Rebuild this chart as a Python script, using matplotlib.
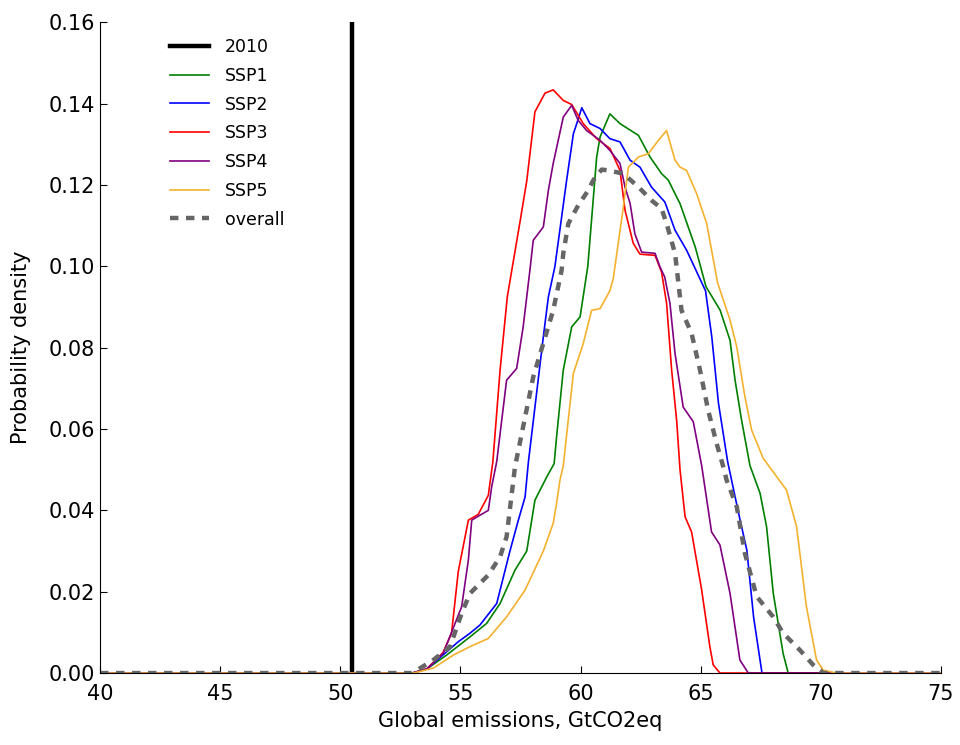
import matplotlib
matplotlib.use("Agg")
import matplotlib.pyplot as plt
from matplotlib.ticker import FormatStrFormatter

# Emissions level in 2010 (GtCO2eq)
EMIS_2010 = 50.5

# Probability density of global emissions per SSP scenario
ssp1_x = [40, 53.0, 53.6, 54.42, 55.40, 56.09, 56.65, 57.27, 57.76, 58.10, 58.59, 58.90, 59.0, 59.28, 59.63, 59.98,
          60.3, 60.67, 60.81, 61.22, 61.64, 62.41, 62.89, 63.37, 63.65, 64.14, 64.77, 65.22, 65.81, 66.22, 66.43,
          66.70, 67.05, 67.47, 67.74, 68.02, 68.43, 68.64, 75]
ssp1_y = [0, 0, 0.001, 0.0044, 0.0089, 0.0122, 0.0171, 0.0253, 0.030, 0.0425, 0.0482, 0.0515, 0.058, 0.0745, 0.0851,
          0.0876, 0.100, 0.1269, 0.1318, 0.1375, 0.1351, 0.1322, 0.1269, 0.1228, 0.1212, 0.1154, 0.1048, 0.095,
          0.0892, 0.0818, 0.072, 0.0622, 0.051, 0.0442, 0.036, 0.0196, 0.0048, 0, 0]

ssp2_x = [40, 53.0, 53.6, 54.42, 54.91, 55.40, 55.81, 56.51, 57.06, 57.41, 57.69, 57.83, 58.45, 58.66, 58.93, 59.42,
          59.70, 59.84, 60.05, 60.39, 60.81, 61.22, 61.64, 62.06, 62.47, 62.95, 63.51, 63.93, 64.41, 65.2, 65.46,
          65.74, 66.12, 66.58, 66.92, 67.2, 67.55, 75]
ssp2_y = [0, 0, 0.001, 0.0052, 0.0077, 0.0098, 0.0118, 0.0171, 0.030, 0.0376, 0.0433, 0.052, 0.0827, 0.0925, 0.0999,
          0.1212, 0.1326, 0.1351, 0.139, 0.1351, 0.1339, 0.1314, 0.1306, 0.1261, 0.1244, 0.1195, 0.1158, 0.1089,
          0.104, 0.094, 0.0827, 0.0663, 0.052, 0.0392, 0.0302, 0.0138, 0, 0]

ssp3_x = [40, 53.0, 53.6, 54.27, 54.63, 54.91, 55.33, 55.74, 56.16, 56.35, 56.65, 56.95, 57.48, 57.76, 58.10, 58.52,
          58.86, 59.28, 59.63, 60.11, 60.67, 61.22, 61.64, 61.85, 62.19, 62.47, 63.10, 63.37, 63.58, 63.79, 64.0,
          64.14, 64.35, 64.62, 65.04, 65.38, 65.52, 65.8, 75]
ssp3_y = [0, 0, 0.001, 0.005, 0.0098, 0.025, 0.0376, 0.039, 0.0437, 0.052, 0.0745, 0.0925, 0.111, 0.121, 0.138, 0.1426,
          0.1434, 0.1408, 0.1398, 0.1351, 0.1314, 0.129, 0.1236, 0.1138, 0.1057, 0.103, 0.1027, 0.0986, 0.0909,
          0.0745, 0.062, 0.0499, 0.0384, 0.0347, 0.0204, 0.0065, 0.002, 0, 0]

ssp4_x = [40, 53.0, 53.6, 54.29, 55.05, 55.33, 55.47, 55.81, 56.16, 56.30, 56.51, 56.92, 57.34, 57.61, 57.89, 58.03,
          58.45, 58.66, 58.86, 59.28, 59.63, 59.90, 60.25, 60.81, 61.22, 61.64, 61.85, 62.06, 62.26, 62.54, 63.10,
          63.30, 63.50, 63.72, 63.93, 64.27, 64.69, 65.04, 65.45, 65.80, 66.22, 66.63, 66.98, 75]
ssp4_y = [0, 0, 0.001, 0.0049, 0.0163, 0.0278, 0.0376, 0.0388, 0.040, 0.0458, 0.052, 0.072, 0.0749, 0.0851, 0.099,
          0.1064, 0.1097, 0.1187, 0.1253, 0.1367, 0.1396, 0.1359, 0.1334, 0.131, 0.1285, 0.1253, 0.1195, 0.1155,
          0.108, 0.1035, 0.1032, 0.0999, 0.0974, 0.0909, 0.0786, 0.0654, 0.0618, 0.051, 0.0347, 0.0315, 0.0196,
          0.0032, 0, 0]

ssp5_x = [40, 53.04, 53.87, 54.70, 55.40, 56.16, 56.92, 57.69, 58.45, 58.86, 59.0, 59.14, 59.28, 59.70, 60.11, 60.46,
          60.81, 61.22, 61.36, 61.78, 61.99, 62.41, 62.82, 63.24, 63.58, 63.93, 64.14, 64.41, 64.83, 65.25, 65.7,
          66.22, 66.50, 66.84, 67.12, 67.60, 68.57, 68.99, 69.40, 69.82, 70.1, 70.65, 75]
ssp5_y = [0, 0, 0.0012, 0.0044, 0.0065, 0.0085, 0.0138, 0.0204, 0.030, 0.0368, 0.0417, 0.0474, 0.051, 0.0737, 0.081,
          0.0892, 0.0896, 0.094, 0.097, 0.1146, 0.1244, 0.1269, 0.1277, 0.131, 0.1334, 0.1261, 0.1244, 0.1236,
          0.1179, 0.1105, 0.096, 0.0868, 0.0802, 0.0679, 0.0597, 0.0528, 0.045, 0.036, 0.0163, 0.0032, 0.0007, 0, 0]

overall_x = [40, 53.0, 53.87, 54.57, 55.05, 55.40, 56.16, 56.65, 56.92, 57.27, 58.03, 58.86, 59.21, 59.28, 59.49,
             59.90, 60.32, 60.53, 60.88, 61.15, 61.78, 62.41, 62.96, 63.37, 63.58, 63.93, 64.07, 64.2, 64.62, 64.97,
             65.31, 65.66, 65.94, 66.08, 66.50, 66.84, 67.33, 68.02, 68.43, 69.12, 69.68, 70.1, 75]
overall_y = [0, 0, 0.0032, 0.0065, 0.0147, 0.0196, 0.0241, 0.0286, 0.0335, 0.0507, 0.0728, 0.0892, 0.099, 0.1032,
             0.1105, 0.115, 0.1187, 0.1212, 0.1238, 0.1236, 0.1228, 0.1195, 0.1162, 0.1142, 0.1105, 0.1032, 0.096,
             0.0892, 0.0835, 0.0745, 0.0646, 0.0565, 0.0507, 0.0474, 0.0409, 0.0294, 0.0188, 0.0138, 0.0098,
             0.0057, 0.002, 0, 0]

fig = plt.figure(figsize=(9.6, 7.45), dpi=100)
ax = fig.add_axes([0.1042, 0.0966, 0.876, 0.8734])

ax.plot([EMIS_2010, EMIS_2010], [0, 0.16], color='k', lw=3.2, label='2010')
ax.plot(ssp1_x, ssp1_y, color='g', lw=1.2, label='SSP1')
ax.plot(ssp2_x, ssp2_y, color='b', lw=1.2, label='SSP2')
ax.plot(ssp3_x, ssp3_y, color='r', lw=1.2, label='SSP3')
ax.plot(ssp4_x, ssp4_y, color='purple', lw=1.2, label='SSP4')
ax.plot(ssp5_x, ssp5_y, color='#f4b12e', lw=1.2, label='SSP5')
ax.plot(overall_x, overall_y, color='0.4', lw=3.2, dashes=(1.9, 1.7), label='overall')

ax.set_xlim(40, 75)
ax.set_ylim(0, 0.16)
ax.set_xticks(range(40, 76, 5))
ax.set_yticks([0.0, 0.02, 0.04, 0.06, 0.08, 0.10, 0.12, 0.14, 0.16])
ax.yaxis.set_major_formatter(FormatStrFormatter('%.2f'))

for side in ['top', 'right']:
    ax.spines[side].set_visible(False)
ax.tick_params(direction='in', length=5, labelsize=15, top=False, right=False)
ax.tick_params(axis='x', pad=8)

ax.set_xlabel('Global emissions, GtCO2eq', fontsize=15, labelpad=5)
ax.set_ylabel('Probability density', fontsize=15, labelpad=13)

ax.legend(loc='upper left', bbox_to_anchor=(0.065, 1.0), frameon=False, fontsize=12.5,
          handlelength=2.2, handletextpad=0.95, labelspacing=0.62)

fig.savefig('out.png', dpi=100)
